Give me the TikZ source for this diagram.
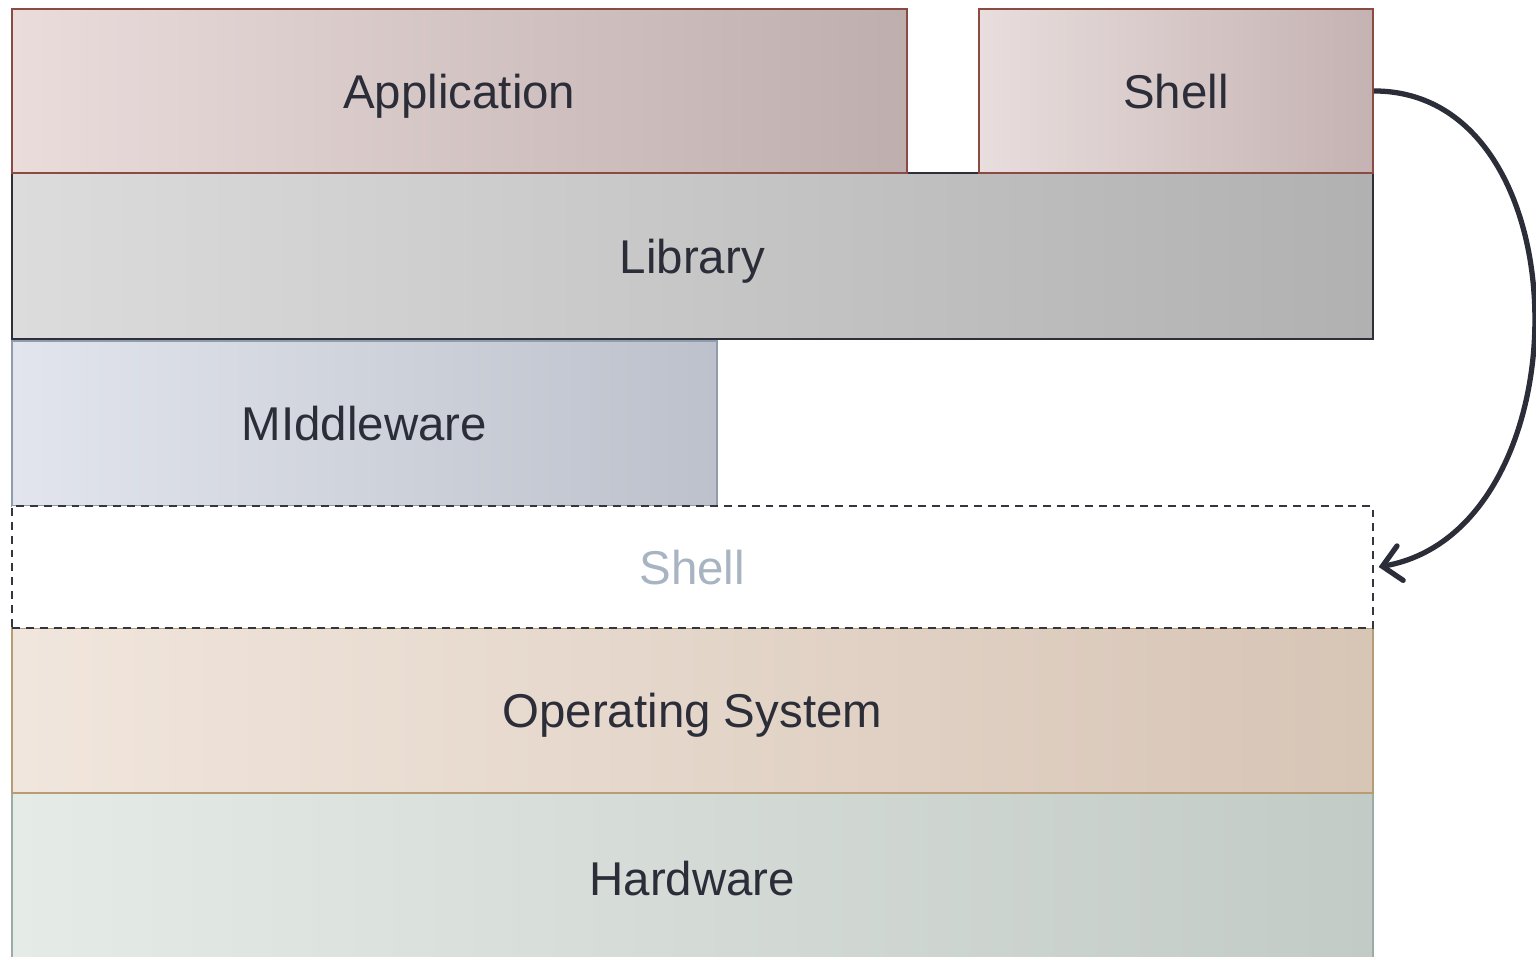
\documentclass[tikz,border=0pt]{standalone}
\usepackage{fontspec}
\setmainfont{Liberation Sans}
\usetikzlibrary{arrows.meta,calc}
\definecolor{txt}{HTML}{2B2D38}
\definecolor{ghost}{HTML}{A9B4C2}
\definecolor{appL}{HTML}{E9DCDB}\definecolor{appR}{HTML}{BFAEAE}
\definecolor{shL}{HTML}{E8DEDD}\definecolor{shR}{HTML}{C5B2B2}
\definecolor{appB}{HTML}{8B4B42}
\definecolor{libL}{HTML}{DCDCDC}\definecolor{libR}{HTML}{B1B1B1}
\definecolor{libB}{HTML}{2D303B}
\definecolor{midL}{HTML}{E2E5ED}\definecolor{midR}{HTML}{BCC1CB}
\definecolor{midB}{HTML}{8E9CAE}
\definecolor{osL}{HTML}{F1E6DD}\definecolor{osR}{HTML}{D7C5B6}
\definecolor{osB}{HTML}{B89C74}
\definecolor{hwL}{HTML}{E5EBE7}\definecolor{hwR}{HTML}{C3CBC6}
\definecolor{hwB}{HTML}{9AACA5}
\definecolor{dashB}{HTML}{33353F}
\begin{document}
\begin{tikzpicture}[x=0.02cm,y=-0.02cm,
  layer/.style={draw, line width=1.1pt, anchor=north west, inner sep=0pt,
    text depth=0pt, font=\fontsize{27}{32}\selectfont, text=txt},
  wide/.style={minimum width=27.22cm},
  flow/.style={draw=txt, line width=3pt,
    -{Straight Barb[length=0.36cm,width=0.7cm,line cap=round,line width=3pt]}}]
\useasboundingbox (0,0) rectangle (1536,957);
% bottom-up stack of layers
\node[layer, wide, minimum height=3.4cm, draw=hwB, left color=hwL, right color=hwR]
  (hw) at (11,792) {Hardware};
\node[layer, wide, minimum height=3.3cm, draw=osB, left color=osL, right color=osR]
  (os) at (11,627) {Operating System};
\node[layer, minimum width=14.1cm, minimum height=3.3cm, draw=midB, left color=midL, right color=midR]
  (mid) at (11,340) {MIddleware};
\node[layer, wide, minimum height=2.44cm, draw=dashB, dash pattern=on 4.5pt off 3.4pt, fill=white, text=ghost]
  (shellslot) at (11,505) {Shell};
\node[layer, wide, minimum height=3.32cm, draw=libB, left color=libL, right color=libR]
  (lib) at (11,172) {Library};
\node[layer, minimum width=17.9cm, minimum height=3.28cm, draw=appB, left color=appL, right color=appR]
  (app) at (11,8) {Application};
\node[layer, minimum width=7.88cm, minimum height=3.28cm, draw=appB, left color=shL, right color=shR]
  (shell) at (978,8) {Shell};
% the shell moves down into its slot
\draw[flow] (shell.east) .. controls ($(shell.east)+(213,0)$) and ($(shellslot.east)+(213,-37)$) .. ($(shellslot.east)+(5,0)$);
\end{tikzpicture}
\end{document}
